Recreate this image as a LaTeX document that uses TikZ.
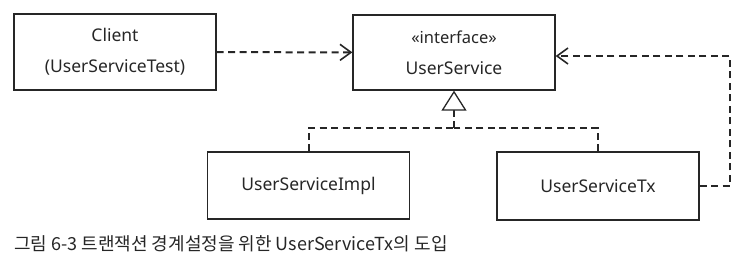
\documentclass[tikz,border=0pt]{standalone}
\usepackage{fontspec}
\setmainfont{Noto Sans}
\newfontfamily\krfont{Noto Sans CJK KR}
\usetikzlibrary{arrows.meta}
\tikzset{
    classbox/.style={draw=black!85, line width=1.3pt, minimum width=202pt, inner sep=0pt, align=center, text=black!85},
    depline/.style={draw=black!85, line width=2pt, dash pattern=on 7pt off 4.5pt},
}
\begin{document}
\begin{tikzpicture}[x=1pt, y=-1pt]
    \useasboundingbox (0,0) rectangle (744,270);
    \fontsize{17.5}{31}\selectfont

    % 클래스 상자
    \node[classbox, minimum height=76pt] (client) at (115,52) {Client\\(UserServiceTest)};
    \node[classbox, minimum height=75pt] (service) at (454,52.5) {{\fontsize{16.5}{31}\selectfont «interface»}\\UserService};
    \node[classbox, minimum height=67pt] (impl) at (308.5,185.5) {UserServiceImpl};
    \node[classbox, minimum height=68pt] (tx) at (598,186) {UserServiceTx};

    % 의존 관계
    \draw[depline, -{Straight Barb[length=11pt, width=16pt, line width=1.6pt]}] (client) -- (service);
    \coordinate (txturn) at (730,186);
    \coordinate (svcturn) at (730,56);
    \draw[depline, -{Straight Barb[length=11pt, width=16pt, line width=1.6pt]}] (tx.east) -- (txturn) -- (svcturn) -- (service.east |- svcturn);

    % 인터페이스 구현
    \coordinate (junc) at (454,128);
    \draw[depline] (impl.north) |- (junc);
    \draw[depline] (tx.north) |- (junc);
    \draw[depline, -{Triangle[open, length=20pt, width=25pt, line width=1.3pt, fill=white]}] (junc) -- (service.south);

    % 그림 설명
    \node[anchor=west, inner sep=0pt, text=black!85] (caption) at (14,244) {\krfont\fontsize{18}{20}\selectfont 그림 6-3 트랜잭션 경계설정을 위한 UserServiceTx의 도입};
\end{tikzpicture}
\end{document}
